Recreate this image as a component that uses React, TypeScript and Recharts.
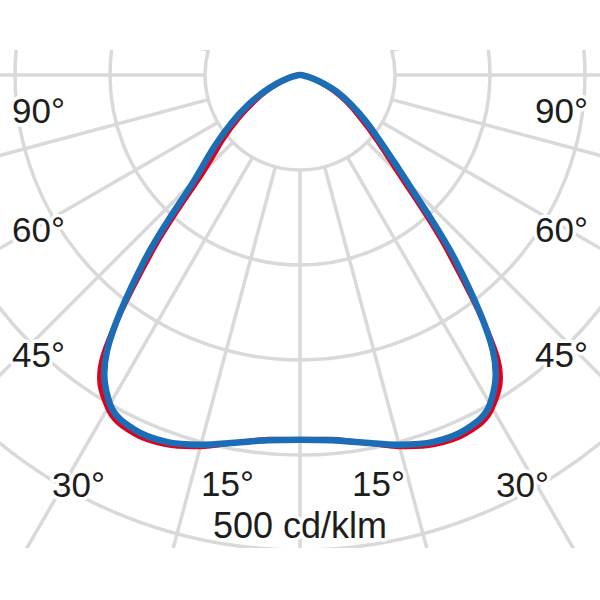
import React from 'react';
import { RadarChart, Radar, PolarGrid, PolarAngleAxis, PolarRadiusAxis } from 'recharts';

// gamma angle (deg), measured from nadir, going through the left half first
const gammaDeg = [
  0, 5, 10, 15, 20, 25, 30, 35, 40, 45, 50, 55, 60, 65, 70, 75, 80, 85,
  90, 95, 100, 105, 110, 115, 120, 125, 130, 135, 140, 145, 150, 155, 160, 165, 170, 175,
  180, 185, 190, 195, 200, 205, 210, 215, 220, 225, 230, 235, 240, 245, 250, 255, 260, 265,
  270, 275, 280, 285, 290, 295, 300, 305, 310, 315, 320, 325, 330, 335, 340, 345, 350, 355,
];

// luminous intensity, cd/klm (blue curve)
const blueCd = [
  384, 386, 393, 403, 411, 412, 400, 354, 254, 158, 118, 88, 63, 42, 25, 13, 5, 2,
  0, 0, 0, 0, 0, 0, 0, 0, 0, 0, 0, 0, 0, 0, 0, 0, 0, 0,
  0, 0, 0, 0, 0, 0, 0, 0, 0, 0, 0, 0, 0, 0, 0, 0, 0, 0,
  0, 2, 5, 13, 26, 44, 62, 84, 112, 160, 254, 354, 400, 412, 411, 403, 393, 386,
];

// luminous intensity, cd/klm (red curve)
const redCd = [
  384, 385, 393, 405, 414, 416, 405, 362, 241, 143, 106, 78, 55, 37, 22, 11, 4, 1,
  0, 0, 0, 0, 0, 0, 0, 0, 0, 0, 0, 0, 0, 0, 0, 0, 0, 0,
  0, 0, 0, 0, 0, 0, 0, 0, 0, 0, 0, 0, 0, 0, 0, 0, 0, 0,
  0, 1, 4, 11, 23, 39, 56, 76, 104, 147, 241, 362, 405, 416, 414, 405, 393, 385,
];

const gridValues = [100, 200, 300, 400, 500, 600];
const gridAngleValues = [0, 15, 30, 45, 60, 75, 90, 105, 120, 135, 150, 165, 180, 195, 210, 225, 240, 255, 270, 285, 300, 315, 330, 345];
const angleLabels = ['90°', '60°', '45°', '30°', '15°', '15°', '30°', '45°', '60°', '90°'];
const unitLabel = '500 cd/klm';

// ---- layout ----
const CX = 300;
const CY = 75;
const R_MAX = 600;
const OUTER = 570;
const INNER = 95;
const GRID_COLOR = '#d9d9d9';
const labelLayout: { x: number; y: number; anchor: 'start' | 'middle' | 'end' }[] = [
  { x: 12, y: 123, anchor: 'start' },
  { x: 12, y: 242, anchor: 'start' },
  { x: 12, y: 367, anchor: 'start' },
  { x: 52, y: 497, anchor: 'start' },
  { x: 201, y: 496, anchor: 'start' },
  { x: 352, y: 496, anchor: 'start' },
  { x: 549, y: 497, anchor: 'end' },
  { x: 588, y: 367, anchor: 'end' },
  { x: 588, y: 242, anchor: 'end' },
  { x: 588, y: 123, anchor: 'end' },
];
const unitLayout = { x: 300, y: 538 };

const data = gammaDeg.map((g, i) => ({ angle: g, blue: blueCd[i], red: redCd[i] }));
const gridRadii = gridValues.map((v) => (v * OUTER) / R_MAX);

const chartCommon = {
  width: 600,
  height: 600,
  cx: CX,
  cy: CY,
  outerRadius: OUTER,
  startAngle: -90,
  endAngle: -450,
  margin: { top: 0, right: 0, bottom: 0, left: 0 },
  data,
};

const labelStyle: React.CSSProperties = {
  fontFamily: "'Liberation Sans', Arial, sans-serif",
  fontSize: 35,
};
const unitStyle: React.CSSProperties = {
  fontFamily: "'Liberation Sans', Arial, sans-serif",
  fontSize: 36,
};

// closed Catmull-Rom curve through the points that Recharts computed
function smoothClosedPath(points: { x: number; y: number }[]): string {
  const n = points.length;
  if (!n) return '';
  const p = (i: number) => points[(i + n) % n];
  let d = `M${p(0).x},${p(0).y}`;
  for (let i = 0; i < n; i++) {
    const p0 = p(i - 1);
    const p1 = p(i);
    const p2 = p(i + 1);
    const p3 = p(i + 2);
    const c1x = p1.x + (p2.x - p0.x) / 6;
    const c1y = p1.y + (p2.y - p0.y) / 6;
    const c2x = p2.x - (p3.x - p1.x) / 6;
    const c2y = p2.y - (p3.y - p1.y) / 6;
    d += `C${c1x},${c1y},${c2x},${c2y},${p2.x},${p2.y}`;
  }
  return d + 'Z';
}

const smoothShape = (color: string, width: number) => (props: any) => (
  <path
    d={smoothClosedPath(props.points || [])}
    stroke={color}
    strokeWidth={width}
    strokeLinejoin="round"
    fill="none"
  />
);

export default function App() {
  return (
    <div style={{ position: 'absolute', left: 0, top: 0, width: 600, height: 600, background: '#fff' }}>
      <div style={{ position: 'absolute', left: 0, top: 50, width: 600, height: 498, overflow: 'hidden' }}>
        <div style={{ position: 'absolute', left: 0, top: -50 }}>
          <RadarChart {...chartCommon} innerRadius={INNER}>
            <PolarGrid
              gridType="circle"
              polarAngles={gridAngleValues}
              polarRadius={gridRadii}
              stroke={GRID_COLOR}
              strokeWidth={3.5}
            />
            <PolarAngleAxis dataKey="angle" tick={false} tickLine={false} axisLine={false} />
            <PolarRadiusAxis type="number" domain={[0, R_MAX]} tick={false} axisLine={false} />
          </RadarChart>
        </div>
        <div style={{ position: 'absolute', left: 0, top: -50 }}>
          <RadarChart {...chartCommon} innerRadius={0}>
            <PolarAngleAxis dataKey="angle" tick={false} tickLine={false} axisLine={false} />
            <PolarRadiusAxis type="number" domain={[0, R_MAX]} tick={false} axisLine={false} />
            <Radar
              dataKey="red"
              stroke="#e3001b"
              strokeWidth={5}
              fill="none"
              fillOpacity={0}
              dot={false}
              isAnimationActive={false}
              shape={smoothShape('#e3001b', 5)}
            />
            <Radar
              dataKey="blue"
              stroke="#1c6db5"
              strokeWidth={6.5}
              fill="none"
              fillOpacity={0}
              dot={false}
              isAnimationActive={false}
              shape={smoothShape('#1c6db5', 6.5)}
            />
          </RadarChart>
        </div>
        <svg
          width={600}
          height={600}
          style={{ position: 'absolute', left: 0, top: -50 }}
        >
          {angleLabels.map((t, i) => (
            <text
              key={i}
              x={labelLayout[i].x}
              y={labelLayout[i].y}
              textAnchor={labelLayout[i].anchor}
              fill="#1d1d1b"
              stroke="#ffffff"
              strokeWidth={7}
              strokeLinejoin="round"
              paintOrder="stroke"
              style={labelStyle}
            >
              {t}
            </text>
          ))}
          <text
            x={unitLayout.x}
            y={unitLayout.y}
            textAnchor="middle"
            fill="#1d1d1b"
            stroke="#ffffff"
            strokeWidth={7}
            strokeLinejoin="round"
            paintOrder="stroke"
            style={unitStyle}
          >
            {unitLabel}
          </text>
        </svg>
      </div>
    </div>
  );
}
